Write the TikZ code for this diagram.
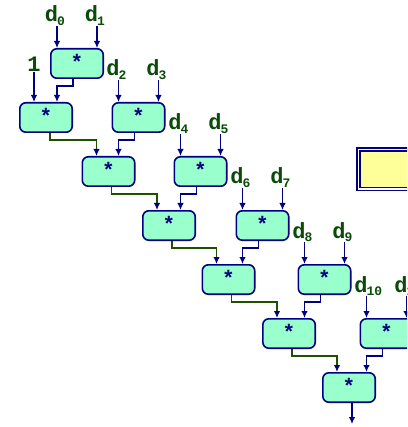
\documentclass[tikz,border=0pt]{standalone}
\usepackage{fontspec}
\usepackage{xcolor}
\usepackage{tikz}
\usetikzlibrary{arrows.meta}

\newfontfamily\codefont{Liberation Mono}
\definecolor{boxnavy}{RGB}{0,0,128}
\definecolor{boxmint}{RGB}{153,255,204}
\definecolor{lblgreen}{RGB}{10,75,10}
\definecolor{carrygreen}{RGB}{30,80,0}
\definecolor{noteyellow}{RGB}{255,255,153}

\newcommand{\mulfont}{\codefont\bfseries\fontsize{21}{21}\selectfont}
\newcommand{\lblfont}{\codefont\bfseries\fontsize{22}{22}\selectfont}
\newcommand{\dlbl}[1]{\llap{d\kern-1pt}\rlap{\raisebox{-3.5pt}{\fontsize{13}{13}\selectfont #1}}}

\tikzset{
  mulbox/.style={rectangle, rounded corners=6pt, minimum width=52.4pt, minimum height=29.4pt, inner sep=0pt, text depth=3.5pt, draw=boxnavy, line width=1.6pt, fill=boxmint, text=boxnavy, font=\mulfont},
  inlbl/.style={inner sep=0pt, text=lblgreen, font=\lblfont},
  feed/.style={->, draw=boxnavy, line width=1.7pt},
  carry/.style={-{Latex[length=7pt,width=6.5pt,boxnavy]}, draw=carrygreen, line width=1.7pt},
  notebox/.style={rectangle, draw=boxnavy, double=white, double distance=1.3pt, line width=1.8pt, fill=noteyellow, minimum width=102pt, minimum height=39.6pt}
}

\begin{document}
\begin{tikzpicture}[node distance=54pt, >={Latex[length=7pt,width=6.5pt]}]
\useasboundingbox (0,0) rectangle (407pt,-427pt);
\clip (0,0) rectangle (407pt,-427pt);

% multipliers: first pair, then the running product and the pairs
\node (mA) [mulbox] at (77pt,-63.5pt) {*};
\node (mB) [mulbox, below of=mA, xshift=-31pt] {*};
\node (mC) [mulbox, below of=mA, xshift=61.5pt] {*};
\node (mD) [mulbox, below of=mB, xshift=62.5pt] {*};
\node (mE) [mulbox, below of=mC, xshift=62pt] {*};
\node (mF) [mulbox, below of=mD, xshift=60.5pt] {*};
\node (mG) [mulbox, below of=mE, xshift=62pt] {*};
\node (mH) [mulbox, below of=mF, xshift=59.5pt] {*};
\node (mI) [mulbox, below of=mG, xshift=62pt] {*};
\node (mJ) [mulbox, below of=mH, xshift=60.5pt] {*};
\node (mK) [mulbox, below of=mI, xshift=62pt] {*};
\node (mL) [mulbox, below of=mJ, xshift=60pt] {*};

\node (note) [notebox, right of=mE, xshift=155pt, yshift=2.3pt] {};

% inputs
\node (one) [inlbl, above of=mB, anchor=base, xshift=-12pt, yshift=-8.5pt] {1};
\node (d0) [inlbl, above of=mA, anchor=base, xshift=-20pt, yshift=-12.5pt] {\dlbl{0}};
\node (d1) [inlbl, above of=mA, anchor=base, xshift=20pt, yshift=-12.5pt] {\dlbl{1}};
\node (d2) [inlbl, above of=mC, anchor=base, xshift=-20pt, yshift=-12.5pt] {\dlbl{2}};
\node (d3) [inlbl, above of=mC, anchor=base, xshift=20pt, yshift=-12.5pt] {\dlbl{3}};
\node (d4) [inlbl, above of=mE, anchor=base, xshift=-20pt, yshift=-12.5pt] {\dlbl{4}};
\node (d5) [inlbl, above of=mE, anchor=base, xshift=20pt, yshift=-12.5pt] {\dlbl{5}};
\node (d6) [inlbl, above of=mG, anchor=base, xshift=-20pt, yshift=-12.5pt] {\dlbl{6}};
\node (d7) [inlbl, above of=mG, anchor=base, xshift=20pt, yshift=-12.5pt] {\dlbl{7}};
\node (d8) [inlbl, above of=mI, anchor=base, xshift=-20pt, yshift=-12.5pt] {\dlbl{8}};
\node (d9) [inlbl, above of=mI, anchor=base, xshift=20pt, yshift=-12.5pt] {\dlbl{9}};
\node (d10) [inlbl, above of=mK, anchor=base, xshift=-20pt, yshift=-12.5pt] {\dlbl{10}};
\node (d11) [inlbl, above of=mK, anchor=base, xshift=20pt, yshift=-12.5pt] {\dlbl{11}};

\coordinate (result) at ([xshift=3pt,yshift=-21pt]mL.south);

\draw[feed] (one) -- (one |- mB.north);
\draw[feed] (d0) -- (d0 |- mA.north);
\draw[feed] (d1) -- (d1 |- mA.north);
\draw[feed] (d2) -- (d2 |- mC.north);
\draw[feed] (d3) -- (d3 |- mC.north);
\draw[feed] (d4) -- (d4 |- mE.north);
\draw[feed] (d5) -- (d5 |- mE.north);
\draw[feed] (d6) -- (d6 |- mG.north);
\draw[feed] (d7) -- (d7 |- mG.north);
\draw[feed] (d8) -- (d8 |- mI.north);
\draw[feed] (d9) -- (d9 |- mI.north);
\draw[feed] (d10) -- (d10 |- mK.north);
\draw[feed] (d11) -- (d11 |- mK.north);

% pair products into the chain
\draw[feed] ([xshift=-4pt]mA.south) -- ++(0,-7pt) -| ([xshift=-20pt]mA.south |- mB.north);
\draw[feed] ([xshift=-4pt]mC.south) -- ++(0,-7pt) -| ([xshift=-20pt]mC.south |- mD.north);
\draw[feed] ([xshift=-4pt]mE.south) -- ++(0,-7pt) -| ([xshift=-20pt]mE.south |- mF.north);
\draw[feed] ([xshift=-4pt]mG.south) -- ++(0,-7pt) -| ([xshift=-20pt]mG.south |- mH.north);
\draw[feed] ([xshift=-4pt]mI.south) -- ++(0,-7pt) -| ([xshift=-20pt]mI.south |- mJ.north);
\draw[feed] ([xshift=-4pt]mK.south) -- ++(0,-7pt) -| ([xshift=-20pt]mK.south |- mL.north);

% running product
\draw[carry] ([xshift=4pt]mB.south) -- ++(0,-7pt) -| ([xshift=-12pt]mD.north);
\draw[carry] ([xshift=3pt]mD.south) -- ++(0,-7pt) -| ([xshift=-12pt]mF.north);
\draw[carry] ([xshift=3pt]mF.south) -- ++(0,-7pt) -| ([xshift=-12pt]mH.north);
\draw[carry] ([xshift=3pt]mH.south) -- ++(0,-7pt) -| ([xshift=-12pt]mJ.north);
\draw[carry] ([xshift=3pt]mJ.south) -- ++(0,-7pt) -| ([xshift=-12pt]mL.north);
\draw[feed] ([xshift=3pt]mL.south) -- (result);

\end{tikzpicture}
\end{document}
